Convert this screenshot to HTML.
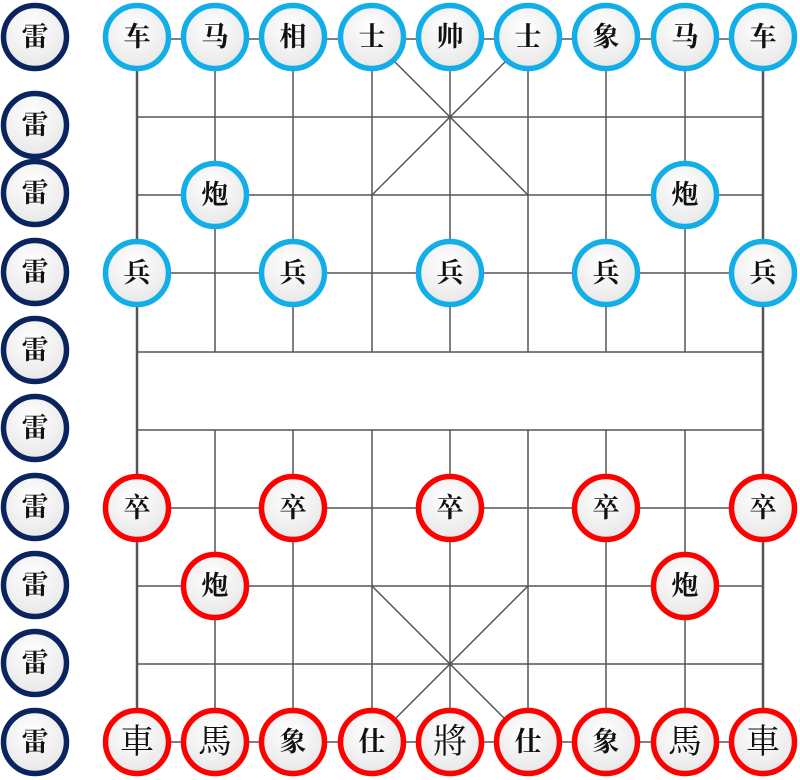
<!DOCTYPE html>
<html><head><meta charset="utf-8"><style>
html,body{margin:0;padding:0;background:#fff;width:800px;height:780px;overflow:hidden}
text{font-family:"Liberation Sans","Noto Serif CJK SC","Noto Sans CJK SC",serif;font-size:27px;text-anchor:middle;dominant-baseline:central}
text.big{font-size:34px;font-weight:normal}
</style></head><body>
<svg width="800" height="780" viewBox="0 0 800 780" xmlns="http://www.w3.org/2000/svg">
<defs><radialGradient id="g" cx="0.45" cy="0.35" r="0.7"><stop offset="0" stop-color="#ffffff"/><stop offset="1" stop-color="#e6e6e6"/></radialGradient></defs>
<g stroke="#555" stroke-width="1.5" fill="none">
<line x1="137" y1="39" x2="763" y2="39"/>
<line x1="137" y1="117" x2="763" y2="117"/>
<line x1="137" y1="195" x2="763" y2="195"/>
<line x1="137" y1="273" x2="763" y2="273"/>
<line x1="137" y1="352" x2="763" y2="352"/>
<line x1="137" y1="430" x2="763" y2="430"/>
<line x1="137" y1="508" x2="763" y2="508"/>
<line x1="137" y1="586" x2="763" y2="586"/>
<line x1="137" y1="664" x2="763" y2="664"/>
<line x1="137" y1="742" x2="763" y2="742"/>
<path d="M215 39V352M293 39V352M372 39V352M450 39V352M528 39V352M606 39V352M685 39V352"/>
<path d="M215 430V742M293 430V742M372 430V742M450 430V742M528 430V742M606 430V742M685 430V742"/>
<path d="M372 39L528 195M528 39L372 195M372 586L528 742M528 586L372 742"/>
</g>
<path d="M137 39V742M763 39V742" stroke="#555" stroke-width="2.5"/>
<g stroke-width="5.5" fill="url(#g)">
<g stroke="#0a2460">
<circle cx="35" cy="37" r="31.5"/><circle cx="35" cy="125" r="31.5"/><circle cx="35" cy="193" r="31.5"/><circle cx="35" cy="272" r="31.5"/><circle cx="35" cy="350" r="31.5"/><circle cx="35" cy="428" r="31.5"/><circle cx="35" cy="507" r="31.5"/><circle cx="35" cy="585" r="31.5"/><circle cx="35" cy="663" r="31.5"/><circle cx="35" cy="742" r="31.5"/>
</g>
<g stroke="#12aee8">
<circle cx="137" cy="37" r="31.5"/><circle cx="215" cy="37" r="31.5"/><circle cx="293" cy="37" r="31.5"/><circle cx="372" cy="37" r="31.5"/><circle cx="450" cy="37" r="31.5"/><circle cx="528" cy="37" r="31.5"/><circle cx="606" cy="37" r="31.5"/><circle cx="685" cy="37" r="31.5"/><circle cx="763" cy="37" r="31.5"/>
<circle cx="215" cy="195" r="31.5"/><circle cx="685" cy="195" r="31.5"/>
<circle cx="137" cy="273" r="31.5"/><circle cx="293" cy="273" r="31.5"/><circle cx="450" cy="273" r="31.5"/><circle cx="606" cy="273" r="31.5"/><circle cx="763" cy="273" r="31.5"/>
</g>
<g stroke="#f00">
<circle cx="137" cy="508" r="31.5"/><circle cx="293" cy="508" r="31.5"/><circle cx="450" cy="508" r="31.5"/><circle cx="606" cy="508" r="31.5"/><circle cx="763" cy="508" r="31.5"/>
<circle cx="215" cy="586" r="31.5"/><circle cx="685" cy="586" r="31.5"/>
<circle cx="137" cy="742" r="31.5"/><circle cx="215" cy="742" r="31.5"/><circle cx="293" cy="742" r="31.5"/><circle cx="372" cy="742" r="31.5"/><circle cx="450" cy="742" r="31.5"/><circle cx="528" cy="742" r="31.5"/><circle cx="606" cy="742" r="31.5"/><circle cx="685" cy="742" r="31.5"/><circle cx="763" cy="742" r="31.5"/>
</g>
</g>
<g fill="#111" font-weight="bold">
<text x="35" y="37">雷</text><text x="35" y="125">雷</text><text x="35" y="193">雷</text><text x="35" y="272">雷</text><text x="35" y="350">雷</text><text x="35" y="428">雷</text><text x="35" y="507">雷</text><text x="35" y="585">雷</text><text x="35" y="663">雷</text><text x="35" y="742">雷</text>
<text x="137" y="37">车</text><text x="215" y="37">马</text><text x="293" y="37">相</text><text x="372" y="37">士</text><text x="450" y="37">帅</text><text x="528" y="37">士</text><text x="606" y="37">象</text><text x="685" y="37">马</text><text x="763" y="37">车</text>
<text x="215" y="195">炮</text><text x="685" y="195">炮</text>
<text x="137" y="273">兵</text><text x="293" y="273">兵</text><text x="450" y="273">兵</text><text x="606" y="273">兵</text><text x="763" y="273">兵</text>
<text x="137" y="508">卒</text><text x="293" y="508">卒</text><text x="450" y="508">卒</text><text x="606" y="508">卒</text><text x="763" y="508">卒</text>
<text x="215" y="586">炮</text><text x="685" y="586">炮</text>
<text x="293" y="742">象</text><text x="372" y="742">仕</text><text x="528" y="742">仕</text><text x="606" y="742">象</text>
</g>
<g fill="#111">
<text class="big" x="137" y="742">車</text><text class="big" x="215" y="742">馬</text><text class="big" x="450" y="742">將</text><text class="big" x="685" y="742">馬</text><text class="big" x="763" y="742">車</text>
</g>
</svg>
</body></html>
